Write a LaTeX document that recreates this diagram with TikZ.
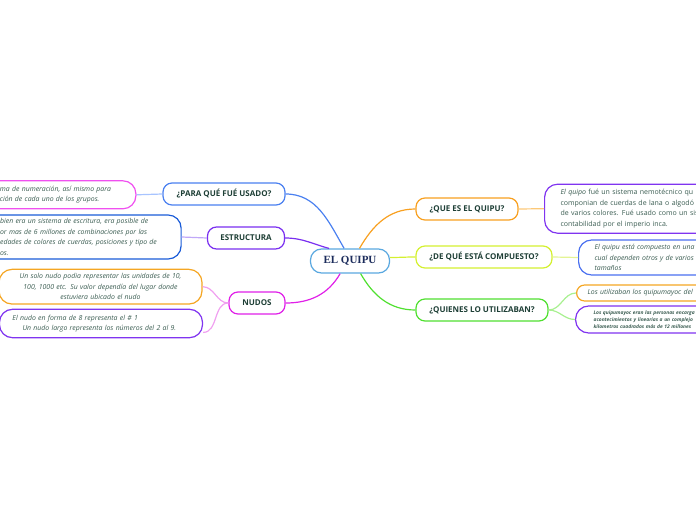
\documentclass[tikz,border=0pt]{standalone}
\usepackage{fontspec}
\setmainfont{Open Sans}
\newfontfamily\quipufont{Liberation Serif}

\definecolor{headtxt}{RGB}{30,63,54}
\definecolor{leaftxt}{RGB}{59,93,82}
\definecolor{quiputxt}{RGB}{28,44,92}
\definecolor{cquipu}{RGB}{90,168,224}
\definecolor{cpara}{RGB}{74,128,240}
\definecolor{cestr}{RGB}{122,47,240}
\definecolor{cnudos}{RGB}{224,32,232}
\definecolor{cquees}{RGB}{248,160,32}
\definecolor{cdeque}{RGB}{212,240,48}
\definecolor{cquien}{RGB}{80,224,48}
\definecolor{lpara}{RGB}{168,196,255}
\definecolor{lestr}{RGB}{192,168,248}
\definecolor{lnudos}{RGB}{240,160,240}
\definecolor{lquees}{RGB}{252,200,120}
\definecolor{ldeque}{RGB}{228,244,148}
\definecolor{lquien}{RGB}{168,240,144}
\definecolor{bpink}{RGB}{240,80,240}
\definecolor{bblue}{RGB}{26,92,216}
\definecolor{borange}{RGB}{245,166,35}
\definecolor{bpurple}{RGB}{128,52,240}
\definecolor{bblue2}{RGB}{74,112,240}

\begin{document}
\begin{tikzpicture}[x=1pt,y=1pt,
    branch/.style={draw,fill=white,rounded corners=9pt,line width=1.2pt,
      minimum height=22pt,inner xsep=0pt,text=headtxt,
      font=\fontsize{8}{9}\selectfont\bfseries},
    leaf/.style={draw,fill=white,rounded corners=13pt,line width=1.2pt,
      text=leaftxt,font=\fontsize{6.9}{10.6}\selectfont\itshape},
    link/.style={line width=1.2pt}]
  \useasboundingbox (0,0) rectangle (696,520);
  \clip (0,0) rectangle (696,520);

  % centre
  \node[draw=cquipu,fill=white,line width=1.2pt,rounded corners=11pt,
    minimum width=79pt,minimum height=24pt,text=quiputxt,
    font=\quipufont\bfseries\fontsize{11}{12}\selectfont] (quipu) at (350,259) {EL QUIPU};

  % left side
  \node[branch,draw=cpara,minimum width=122pt] (para) at (224,326) {¿PARA QUÉ FUÉ USADO?};
  \node[branch,draw=cestr,minimum width=77pt] (estr) at (246,282) {ESTRUCTURA};
  \node[branch,draw=cnudos,minimum width=56pt] (nudos) at (257,217) {NUDOS};

  \node[leaf,draw=bpink,anchor=east,align=left,text width=122pt,inner xsep=14pt,
    minimum height=28pt] (paraleaf) at (136.5,325.2)
    {ma de numeración, así mismo para\\ción de cada uno de los grupos.};
  \node[leaf,draw=bblue,anchor=east,align=left,text width=167pt,inner xsep=14pt,
    minimum height=44pt] (estrleaf) at (181.7,283)
    {bien era un sistema de escritura, era posible de\\or mas de 6 millones de combinaciones por las\\edades de colores de cuerdas, posiciones y tipo de\\os.};
  \node[leaf,draw=borange,align=center,text width=175pt,inner xsep=14pt,
    minimum height=34.7pt] (nudoA) at (100.5,233.3)
    {Un solo nudo podia representar las unidades de 10,\\100, 1000 etc. Su valor dependía del lugar donde\\estuviera ubicado el nudo};
  \node[leaf,draw=bpurple,align=left,text width=177pt,inner xsep=13pt,
    minimum height=28.4pt] (nudoB) at (101,196.5)
    {El nudo en forma de 8 representa el \# 1\\\hspace*{10pt}Un nudo largo representa los números del 2 al 9.};

  % right side
  \node[branch,draw=cquees,minimum width=102pt] (quees) at (467,311) {¿QUE ES EL QUIPU?};
  \node[branch,draw=cdeque,minimum width=136pt] (deque) at (484,263) {¿DE QUÉ ESTÁ COMPUESTO?};
  \node[branch,draw=cquien,minimum width=132pt] (quienes) at (482,210) {¿QUIENES LO UTILIZABAN?};

  \node[leaf,draw=bpurple,anchor=west,align=left,text width=200pt,inner xsep=16pt,
    minimum height=49pt,font=\fontsize{7}{10.8}\selectfont] (queleaf) at (544,311.3)
    {{\itshape El quipo} fué un sistema nemotécnico qu\\componian de cuerdas de lana o algodó\\de varios colores. Fué usado como un sis\\contabilidad por el imperio inca.};
  \node[leaf,draw=bblue2,anchor=west,align=left,text width=200pt,inner xsep=16pt,
    minimum height=35pt] (deleaf) at (578,262.5)
    {El quipu está compuesto en una\\cual dependen otros y de varios\\tamaños};
  \node[leaf,draw=borange,anchor=west,align=left,text width=200pt,inner xsep=11pt,
    rounded corners=8pt,minimum height=16pt] (usoA) at (576,227)
    {Los utilizaban los quipumayoc del};
  \node[leaf,draw=bpurple,anchor=west,align=left,text width=200pt,inner xsep=18pt,
    minimum height=27pt,font=\fontsize{4.9}{7}\selectfont\bfseries\itshape] (usoB) at (575,200.5)
    {Los quipumayoc eran las personas encarga\\acontecimientos y linearias a un complejo\\kilometros cuadrados más de 12 millones};

  % main branches
  \draw[link,draw=cpara] (quipu.115) to[out=120,in=0] (para.east);
  \draw[link,draw=cestr] (quipu.149) to[out=165,in=0] (estr.east);
  \draw[link,draw=cnudos] (quipu.232) to[out=240,in=0] (nudos.east);
  \draw[link,draw=cquees] (quipu.53) to[out=60,in=180] (quees.west);
  \draw[link,draw=cdeque] (quipu.5) to[out=0,in=180] (deque.west);
  \draw[link,draw=cquien] (quipu.-50) to[out=-60,in=180] (quienes.west);

  % leaves
  \draw[link,draw=lpara] (para.west) -- (paraleaf.east);
  \draw[link,draw=lestr] (estr.west) -- (estrleaf.east);
  \draw[link,draw=lnudos] (nudos.west) to[out=180,in=0] (nudoA.east);
  \draw[link,draw=lnudos] (nudos.west) to[out=180,in=0] (nudoB.-5);
  \draw[link,draw=lquees] (quees.east) -- (queleaf.west);
  \draw[link,draw=ldeque] (deque.east) -- (deleaf.west);
  \draw[link,draw=lquien] (quienes.east) to[out=0,in=180] (usoA.west);
  \draw[link,draw=lquien] (quienes.east) to[out=0,in=180] (usoB.west);
\end{tikzpicture}
\end{document}
